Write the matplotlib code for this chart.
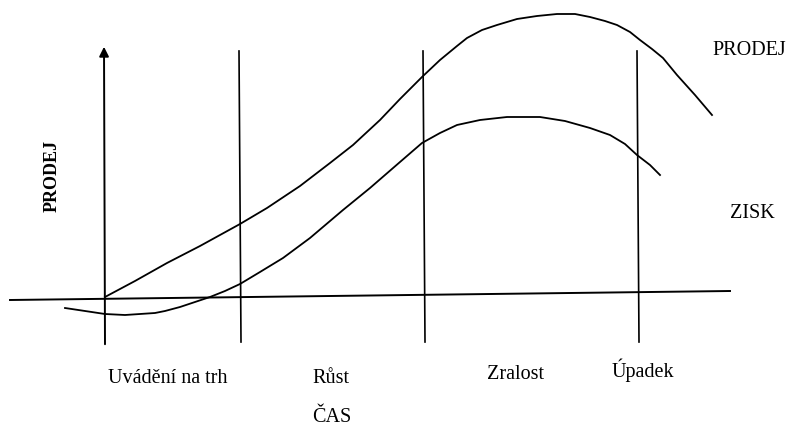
import matplotlib.pyplot as plt
from matplotlib.patches import FancyArrowPatch

# product life cycle (x = time, y = screen height, top = 0)
sales_t = [105, 135, 167, 200, 240, 267, 300, 330, 353, 380, 400, 422, 440, 457, 467, 482,
           497, 517, 537, 557, 575, 590, 605, 617, 630, 640, 652, 663, 677, 695, 712]
sales_v = [297, 281, 263, 246, 224, 208, 186, 163, 145, 120, 99, 77, 60, 46, 38, 30,
           25, 19, 16, 14, 14, 17, 21, 25, 32, 40, 49, 58, 75, 95, 115]

profit_t = [65, 85, 105, 125, 140, 155, 165, 180, 195, 210, 225, 240, 260, 283, 310, 343,
            370, 400, 422, 440, 457, 480, 507, 540, 565, 590, 610, 625, 637, 650, 660]
profit_v = [308, 311, 314, 315, 314, 313, 311, 307, 302, 297, 291, 284, 272, 258, 238, 210,
            188, 162, 143, 133, 125, 120, 117, 117, 121, 128, 135, 144, 155, 165, 175]

# stage boundaries (time) and phase names
stage_t = [240, 424, 638]
stage_labels = ["Uvádění na trh", "Růst", "Zralost", "Úpadek"]

FONT = "Liberation Serif"

fig = plt.figure(figsize=(7.88, 4.28), dpi=100)
ax = fig.add_axes([0, 0, 1, 1])
ax.set_xlim(0, 788)
ax.set_ylim(428, 0)
ax.axis("off")

# time axis (slightly tilted like the scan)
ax.plot([10, 730], [300, 291], color="black", linewidth=1.4)

# vertical value axis with arrow
ax.add_patch(
    FancyArrowPatch(
        (105, 347),
        (104, 44),
        arrowstyle="-|>",
        mutation_scale=14,
        linewidth=1.4,
        color="black",
    )
)

# stage separators
for t in stage_t:
    ax.plot([t - 1, t + 1], [51, 342], color="black", linewidth=1.2)

ax.plot(sales_t, sales_v, color="black", linewidth=1.3)
ax.plot(profit_t, profit_v, color="black", linewidth=1.3)

ax.text(52, 176, "PRODEJ", rotation=90, ha="center", va="center",
        fontsize=13, fontweight="bold", family=FONT)
ax.text(712, 55, "PRODEJ", ha="left", va="baseline", fontsize=14.5, family=FONT)
ax.text(730, 218, "ZISK", ha="left", va="baseline", fontsize=14.5, family=FONT)

label_x = [108, 312, 487, 612]
label_y = [383, 383, 379, 377]
for x, y, lab in zip(label_x, label_y, stage_labels):
    ax.text(x, y, lab, ha="left", va="baseline", fontsize=14.5, family=FONT)

ax.text(312, 422, "ČAS", ha="left", va="baseline", fontsize=14.5, family=FONT)

fig.savefig("out.png", dpi=100, facecolor="white")
plt.close(fig)
